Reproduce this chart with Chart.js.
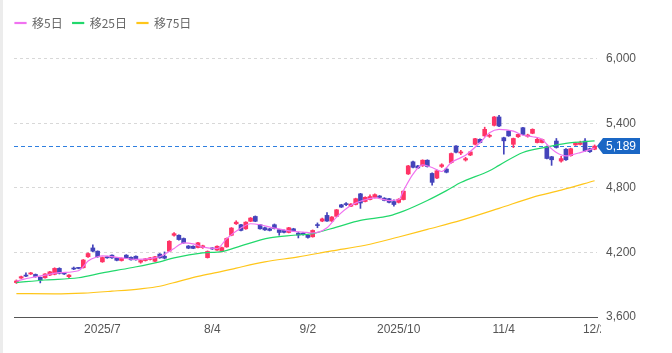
<!DOCTYPE html>
<html lang="ja">
<head>
<meta charset="utf-8">
<title>株価チャート</title>
<script src="https://cdn.jsdelivr.net/npm/chart.js@4.4.1/dist/chart.umd.min.js"></script>
<style>
  html, body { margin: 0; padding: 0; background: #fff; }
  #wrap { position: relative; width: 672px; height: 353px; }
  #edge { position: absolute; left: 0; top: 0; width: 3px; height: 353px; background: #ececec; }
</style>
</head>
<body>
<div id="wrap">
  <canvas id="stockChart" width="672" height="353"></canvas>
  <div id="edge"></div>
</div>
<script>
const dates = [
  "6/5", "6/6", "6/9", "6/10", "6/11", "6/12", "6/13", "6/16", "6/17", "6/18",
  "6/19", "6/20", "6/23", "6/24", "6/25", "6/26", "6/27", "6/30",
  "7/1", "7/2", "7/3", "7/4", "7/7", "7/8", "7/9", "7/10", "7/11", "7/14",
  "7/15", "7/16", "7/17", "7/18", "7/22", "7/23", "7/24", "7/25", "7/28", "7/29",
  "7/30", "7/31",
  "8/1", "8/4", "8/5", "8/6", "8/7", "8/8", "8/12", "8/13", "8/14", "8/15",
  "8/18", "8/19", "8/20", "8/21", "8/22", "8/25", "8/26", "8/27", "8/28", "8/29",
  "9/1", "9/2", "9/3", "9/4", "9/5", "9/8", "9/9", "9/10", "9/11", "9/12",
  "9/16", "9/17", "9/18", "9/19", "9/22", "9/24", "9/25", "9/26", "9/29", "9/30",
  "10/1", "10/2", "10/3", "10/6", "10/7", "10/8", "10/9", "10/10", "10/14", "10/15",
  "10/16", "10/17", "10/20", "10/21", "10/22", "10/23", "10/24", "10/27", "10/28", "10/29",
  "10/30", "10/31",
  "11/4", "11/5", "11/6", "11/7", "11/10", "11/11", "11/12", "11/13", "11/14", "11/17",
  "11/18", "11/19", "11/20", "11/21", "11/25", "11/26", "11/27", "11/28",
  "12/1", "12/2"
];

const opens = [
  3920, 3962, 3990, 4000, 3996, 3969, 3965, 3990, 3997, 4052,
  4010, 3975, 4052, 4058, 4058, 4160, 4242, 4212, 4113, 4160,
  4175, 4150, 4125, 4175, 4155, 4165, 4110, 4125, 4135, 4118,
  4185, 4165, 4212, 4360, 4360, 4330, 4260, 4258, 4246, 4245,
  4152, 4240, 4222, 4212, 4252, 4360, 4467, 4458, 4420, 4490,
  4535, 4458, 4430, 4420, 4458, 4412, 4405, 4386, 4420, 4380,
  4380, 4360, 4346, 4456, 4492, 4545, 4492, 4536, 4643, 4650,
  4630, 4646, 4745, 4674, 4692, 4712, 4725, 4705, 4700, 4673,
  4666, 4692, 4930, 5043, 5005, 5006, 5058, 4935, 4892, 5000,
  4975, 5036, 5190, 5125, 5060, 5106, 5206, 5252, 5284, 5280,
  5382, 5460, 5267, 5330, 5206, 5276, 5360, 5280, 5308, 5222,
  5222, 5184, 5090, 5236, 5050, 5160, 5100, 5200, 5205, 5236,
  5165, 5160
];
const highs = [
  3945, 3980, 4010, 4015, 4000, 3972, 4003, 4025, 4058, 4058,
  4015, 3995, 4065, 4062, 4135, 4196, 4272, 4215, 4158, 4165,
  4178, 4155, 4150, 4180, 4160, 4168, 4128, 4145, 4155, 4165,
  4190, 4205, 4310, 4385, 4365, 4335, 4265, 4262, 4295, 4268,
  4215, 4245, 4262, 4250, 4335, 4432, 4495, 4462, 4486, 4525,
  4540, 4462, 4435, 4424, 4465, 4416, 4410, 4434, 4425, 4385,
  4384, 4364, 4410, 4475, 4520, 4570, 4534, 4600, 4648, 4665,
  4655, 4705, 4750, 4718, 4735, 4745, 4730, 4710, 4704, 4690,
  4700, 4775, 5010, 5050, 5010, 5062, 5062, 4940, 4965, 5025,
  4985, 5125, 5195, 5150, 5085, 5140, 5262, 5256, 5365, 5300,
  5465, 5475, 5272, 5335, 5264, 5302, 5364, 5300, 5350, 5270,
  5255, 5190, 5094, 5260, 5095, 5165, 5170, 5225, 5235, 5260,
  5170, 5200
];
const lows = [
  3912, 3958, 3975, 3995, 3970, 3917, 3960, 3985, 3992, 4000,
  3995, 3960, 4040, 4048, 4055, 4155, 4208, 4155, 4108, 4146,
  4145, 4122, 4120, 4146, 4128, 4128, 4100, 4120, 4130, 4115,
  4146, 4140, 4208, 4352, 4315, 4285, 4235, 4235, 4242, 4238,
  4148, 4228, 4218, 4205, 4248, 4355, 4460, 4400, 4415, 4486,
  4486, 4416, 4405, 4400, 4418, 4360, 4382, 4382, 4396, 4335,
  4360, 4334, 4342, 4430, 4486, 4488, 4488, 4532, 4618, 4635,
  4625, 4642, 4610, 4670, 4688, 4706, 4706, 4680, 4660, 4630,
  4660, 4688, 4925, 4986, 4980, 5000, 4994, 4825, 4886, 4990,
  4940, 5030, 5126, 5110, 5050, 5100, 5200, 5218, 5280, 5270,
  5376, 5370, 5114, 5280, 5175, 5270, 5294, 5272, 5304, 5218,
  5218, 5070, 5010, 5170, 5040, 5056, 5095, 5195, 5200, 5140,
  5130, 5155
];
const closes = [
  3935, 3975, 3980, 4010, 3975, 3944, 4000, 4020, 4052, 4006,
  4000, 3990, 4046, 4052, 4130, 4190, 4212, 4160, 4153, 4150,
  4150, 4127, 4145, 4150, 4132, 4132, 4125, 4140, 4150, 4160,
  4150, 4147, 4304, 4375, 4320, 4290, 4240, 4238, 4290, 4262,
  4210, 4233, 4258, 4245, 4330, 4427, 4482, 4405, 4482, 4520,
  4490, 4420, 4410, 4405, 4422, 4386, 4387, 4430, 4402, 4362,
  4366, 4340, 4405, 4450, 4512, 4492, 4530, 4597, 4622, 4645,
  4650, 4700, 4660, 4713, 4720, 4738, 4712, 4684, 4666, 4646,
  4695, 4770, 5005, 4992, 4986, 5058, 5000, 4852, 4960, 5015,
  4946, 5120, 5132, 5135, 5073, 5135, 5258, 5222, 5345, 5290,
  5460, 5376, 5238, 5284, 5260, 5298, 5298, 5292, 5345, 5252,
  5250, 5074, 5062, 5176, 5073, 5062, 5165, 5218, 5220, 5146,
  5137, 5189
];

// moving averages at these dates
const ma5 = [
  ["6/5", 3935], ["6/10", 3965], ["6/13", 3990], ["6/18", 4012], ["6/24", 4030],
  ["6/25", 4067], ["6/26", 4120], ["6/30", 4160], ["7/1", 4169], ["7/7", 4150],
  ["7/10", 4135], ["7/16", 4150], ["7/17", 4160], ["7/23", 4237], ["7/24", 4270],
  ["7/25", 4290], ["7/29", 4280], ["7/31", 4250], ["8/5", 4237], ["8/7", 4329],
  ["8/13", 4427], ["8/15", 4467], ["8/19", 4458], ["8/22", 4427], ["8/28", 4397],
  ["9/1", 4390], ["9/3", 4381], ["9/8", 4430], ["9/10", 4529], ["9/16", 4637],
  ["9/19", 4690], ["9/24", 4708], ["9/29", 4683], ["10/1", 4690], ["10/2", 4775],
  ["10/6", 4929], ["10/8", 5015], ["10/10", 4990], ["10/15", 4953], ["10/17", 5036],
  ["10/21", 5082], ["10/22", 5105], ["10/27", 5221], ["10/29", 5313], ["10/31", 5345],
  ["11/6", 5329], ["11/10", 5290], ["11/12", 5276], ["11/14", 5252], ["11/17", 5206],
  ["11/19", 5129], ["11/21", 5098], ["11/25", 5105], ["11/27", 5129], ["12/2", 5170]
];
const ma25 = [
  ["6/5", 3920], ["6/13", 3944], ["6/24", 3965], ["7/1", 4010], ["7/9", 4058],
  ["7/17", 4113], ["7/23", 4150], ["7/31", 4196], ["8/6", 4208], ["8/13", 4262],
  ["8/21", 4335], ["8/28", 4360], ["9/3", 4376], ["9/10", 4436], ["9/18", 4498],
  ["9/29", 4540], ["10/2", 4584], ["10/9", 4683], ["10/16", 4775], ["10/21", 4850],
  ["10/29", 4960], ["10/31", 5010], ["11/10", 5130], ["11/17", 5180], ["11/21", 5215],
  ["12/2", 5237]
];
const ma75 = [
  ["6/5", 3818], ["6/17", 3815], ["6/25", 3822], ["7/3", 3840], ["7/11", 3862],
  ["7/17", 3886], ["7/24", 3932], ["7/30", 3978], ["8/6", 4024], ["8/12", 4055],
  ["8/20", 4113], ["8/29", 4159], ["9/9", 4215], ["9/19", 4267], ["10/1", 4344],
  ["10/9", 4415], ["10/21", 4498], ["10/31", 4610], ["11/12", 4713], ["11/20", 4780],
  ["12/2", 4867]
];

const tickDates = ["7/1", "8/4", "9/2", "10/1", "11/4", "12/2"];
const tickTexts = ["2025/7", "8/4", "9/2", "2025/10", "11/4", "12/2"];
const priceTicks = [3600, 4200, 4800, 5400, 6000];

const UP = "#ff3366";
const DOWN = "#4444bb";
const lastPrice = closes[closes.length - 1];

const candleColors = closes.map((c, i) => (c >= opens[i] ? UP : DOWN));
const toPoints = (list) => list.map(([d, v]) => ({ x: d, y: v }));

const priceTag = {
  id: "priceTag",
  beforeDatasetsDraw(chart) {
    const { ctx, chartArea, scales } = chart;
    const y = Math.round(scales.y.getPixelForValue(lastPrice)) + 0.5;
    ctx.save();
    ctx.strokeStyle = "#2f7fe0";
    ctx.lineWidth = 1;
    ctx.setLineDash([4, 3]);
    ctx.beginPath();
    ctx.moveTo(chartArea.left, y);
    ctx.lineTo(chartArea.right, y);
    ctx.stroke();
    ctx.restore();
  },
  afterDraw(chart) {
    const { ctx, chartArea, scales } = chart;
    ctx.save();
    // the last date label is cut off at the plot edge
    ctx.fillStyle = "#fff";
    ctx.fillRect(chartArea.right + 4, chartArea.bottom + 7, 80, 40);

    const y = Math.round(scales.y.getPixelForValue(lastPrice));
    const x = chartArea.right;
    ctx.fillStyle = "#1a67c5";
    ctx.beginPath();
    ctx.moveTo(x, y);
    ctx.lineTo(x + 6, y - 8);
    ctx.lineTo(x + 43, y - 8);
    ctx.lineTo(x + 43, y + 8);
    ctx.lineTo(x + 6, y + 8);
    ctx.closePath();
    ctx.fill();
    ctx.fillStyle = "#fff";
    ctx.font = '12px "Liberation Sans", Arial, sans-serif';
    ctx.textBaseline = "middle";
    ctx.fillText(lastPrice.toLocaleString("en-US"), x + 9, y + 1);
    ctx.restore();
  },
};

const ctx = document.getElementById("stockChart").getContext("2d");
new Chart(ctx, {
  data: {
    labels: dates,
    datasets: [
      {
        type: "line",
        label: "移5日",
        data: toPoints(ma5),
        yAxisID: "y",
        borderColor: "#f072f0",
        backgroundColor: "#f072f0",
        borderWidth: 1.2,
        pointRadius: 0,
        cubicInterpolationMode: "monotone",
        order: 0,
      },
      {
        type: "line",
        label: "移25日",
        data: toPoints(ma25),
        yAxisID: "y",
        borderColor: "#22d86c",
        backgroundColor: "#22d86c",
        borderWidth: 1.2,
        pointRadius: 0,
        cubicInterpolationMode: "monotone",
        order: 0,
      },
      {
        type: "line",
        label: "移75日",
        data: toPoints(ma75),
        yAxisID: "y",
        borderColor: "#ffc61a",
        backgroundColor: "#ffc61a",
        borderWidth: 1.2,
        pointRadius: 0,
        cubicInterpolationMode: "monotone",
        order: 0,
      },
      {
        type: "bar",
        data: opens.map((o, i) => [o, closes[i]]),
        yAxisID: "y",
        backgroundColor: candleColors,
        barThickness: 4,
        minBarLength: 1,
        grouped: false,
        order: 1,
      },
      {
        type: "bar",
        data: lows.map((l, i) => [l, highs[i]]),
        yAxisID: "y",
        backgroundColor: candleColors,
        barThickness: 1,
        grouped: false,
        order: 2,
      },
    ],
  },
  options: {
    responsive: false,
    animation: false,
    devicePixelRatio: 1,
    layout: { padding: { top: 7, left: 5, right: 0, bottom: 0 } },
    plugins: {
      tooltip: { enabled: false },
      legend: {
        position: "top",
        align: "start",
        labels: {
          filter: (item) => !!item.text,
          boxWidth: 11,
          boxHeight: 1,
          padding: 10,
          color: "#666",
          font: { family: '"Noto Sans CJK JP", "Noto Sans", sans-serif', size: 12 },
        },
      },
    },
    scales: {
      x: {
        type: "category",
        offset: true,
        grid: { display: false, drawTicks: false },
        border: { display: true, color: "#555", width: 1 },
        ticks: {
          autoSkip: false,
          maxRotation: 0,
          padding: 5,
          color: "#555",
          font: { family: '"Liberation Sans", Arial, sans-serif', size: 12 },
          callback: function (value) {
            const k = tickDates.indexOf(this.getLabelForValue(value));
            return k >= 0 ? tickTexts[k] : "";
          },
        },
        afterFit: (s) => { s.height = 36; },
      },
      y: {
        type: "linear",
        position: "right",
        min: 3600,
        max: 6185,
        grid: {
          drawTicks: false,
          color: (c) => (c.tick && c.tick.value === 3600 ? "rgba(0,0,0,0)" : "#d8d8d8"),
        },
        border: { display: false, dash: [3, 3] },
        afterBuildTicks: (s) => { s.ticks = priceTicks.map((v) => ({ value: v })); },
        ticks: {
          padding: 9,
          color: "#555",
          font: { family: '"Liberation Sans", Arial, sans-serif', size: 12 },
          callback: (v) => v.toLocaleString("en-US"),
        },
        afterFit: (s) => { s.width = 75; },
      },
      yPad: {
        type: "linear",
        position: "left",
        grid: { display: false, drawTicks: false },
        border: { display: false },
        ticks: { display: false },
        afterFit: (s) => { s.width = 9; },
      },
    },
  },
  plugins: [priceTag],
});
</script>
</body>
</html>
